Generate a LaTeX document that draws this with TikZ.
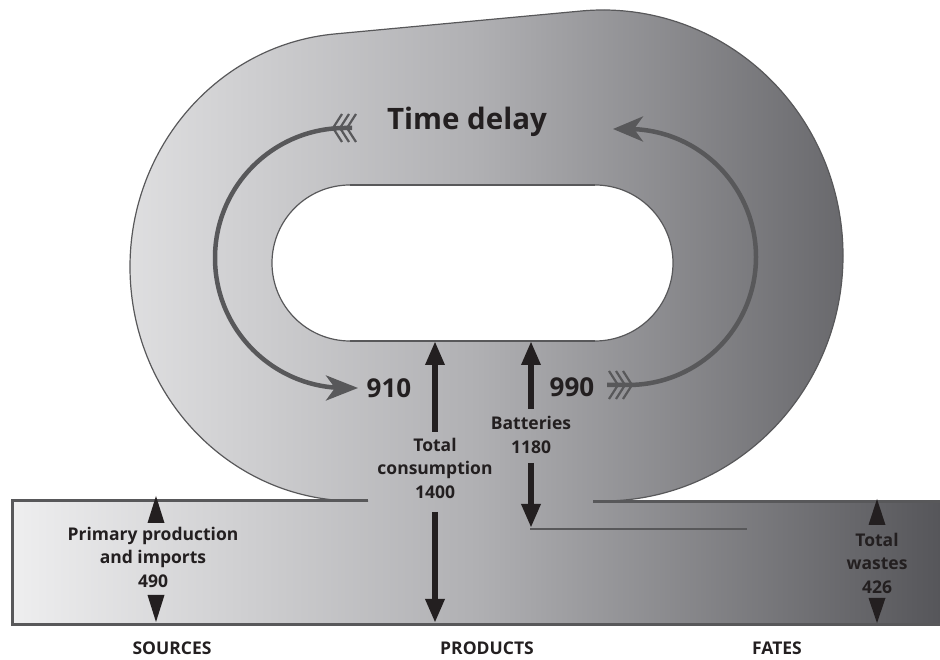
\documentclass[tikz,border=0pt]{standalone}
\usepackage{fontspec}
\setmainfont{Open Sans}
\usetikzlibrary{arrows.meta}
\definecolor{ink}{HTML}{231F20}
\definecolor{edge}{HTML}{58585A}
\definecolor{gl}{HTML}{EEEEEF}
\definecolor{gm}{HTML}{B0B0B3}
\definecolor{gd}{HTML}{56565A}
\begin{document}
\begin{tikzpicture}[x=1pt,y=1pt,
  lbl/.style={font=\bfseries\fontsize{17.5}{23.5}\selectfont, text=ink, align=center, inner sep=0pt},
  axis/.style={font=\bfseries\fontsize{17.5}{22}\selectfont, text=ink, inner sep=0pt},
  big/.style={font=\bfseries\fontsize{26}{30}\selectfont, text=ink, inner sep=0pt},
  title/.style={font=\bfseries\fontsize{29.5}{34}\selectfont, text=ink, inner sep=0pt},
  blk/.style={draw=ink, line width=6.5pt, -{Triangle[length=24pt,width=18pt]}},
  tri/.style={fill=ink, draw=none},
  garc/.style={draw=edge, line width=4.5pt},
  feather/.style={draw=edge, line width=2.2pt},
  border/.style={draw=edge, line width=3pt},
  thin/.style={draw=edge, line width=1.2pt}]
\useasboundingbox (0,0) rectangle (940,660);

% shaded body: band + loop
\shade[left color=gl, right color=gd, middle color=gm]
  (12,35) -- (940,35) -- (940,159) -- (603,159)
  arc[start angle=-90, end angle=95, x radius=240, y radius=245.5]
  -- (335.4,626.1)
  arc[start angle=95, end angle=270, x radius=225, y radius=234]
  -- (12,159) -- cycle;
% thin outline of the loop
\path[thin] (593,159) -- (603,159)
  arc[start angle=-90, end angle=95, x radius=240, y radius=245.5]
  -- (335.4,626.1)
  arc[start angle=95, end angle=270, x radius=225, y radius=234]
  -- (368,159);
% hole
\path[thin, fill=white, rounded corners=78pt] (272,319) rectangle (673,475);
\path[draw=edge, line width=2.5pt] (350,319) -- (595,319);
\path[draw=edge, line width=2.5pt] (350,475) -- (595,475);

% band borders
\path[border] (368,159) -- (12,159) -- (12,35) -- (940,35);
\path[border] (593,158) -- (940,158);

% gray circulating arrows
\coordinate (lt) at (352,532);
\coordinate (lh) at (358,272);
\path[garc, -{Stealth[length=32pt,width=25pt,inset=9pt]}]
  (lt) -- (345,532) arc[start angle=90, end angle=270, radius=130] -- (lh);
\foreach \v in {333,340,347}
  \path[feather] (\v+9,546) -- (\v,532) -- (\v+9,518);

\coordinate (rt) at (607,275);
\coordinate (rh) at (613,531);
\path[garc, -{Stealth[length=30pt,width=25pt,inset=9pt]}]
  (rt) -- (628,275) arc[start angle=-90, end angle=90, radius=128] -- (rh);
\foreach \v in {618,625,632}
  \path[feather] (\v-9,289) -- (\v,275) -- (\v-9,261);

% texts
\node[title] (td) at (467,538) {Time delay};
\node[big] (n910) at (389,272) {910};
\node[big] (n990) at (572,273) {990};
\node[lbl] (cons) at (435,192) {Total\\consumption\\1400};
\node[lbl] (batt) at (531,225) {Batteries\\1180};
\node[lbl] (prim) at (153,103) {Primary production\\and imports\\490};
\node[lbl] (waste) at (877,97) {Total\\wastes\\426};
\node[axis] (src) at (172,12) {SOURCES};
\node[axis] (prd) at (487,12) {PRODUCTS};
\node[axis] (fat) at (777,12) {FATES};

% black arrows
\coordinate (holeA) at (435,319);
\coordinate (baseA) at (435,37);
\coordinate (holeB) at (531,319);
\coordinate (bendB) at (531,132);
\coordinate (endB) at (747,131);
\path[blk] (435,228) -- (holeA);
\path[blk] (435,148) -- (baseA);
\path[blk] (531,251) -- (holeB);
\path[blk] (531,197) -- (bendB);
\path[draw=edge, line width=2.5pt] (530,131) -- (endB);

% small triangles
\path[tri] (156,164) -- (147.5,137) -- (164.5,137) -- cycle;
\path[tri] (156,38) -- (147.5,65) -- (164.5,65) -- cycle;
\path[tri] (877,161) -- (868.5,135) -- (885.5,135) -- cycle;
\path[tri] (877,37) -- (868.5,62) -- (885.5,62) -- cycle;
\end{tikzpicture}
\end{document}
